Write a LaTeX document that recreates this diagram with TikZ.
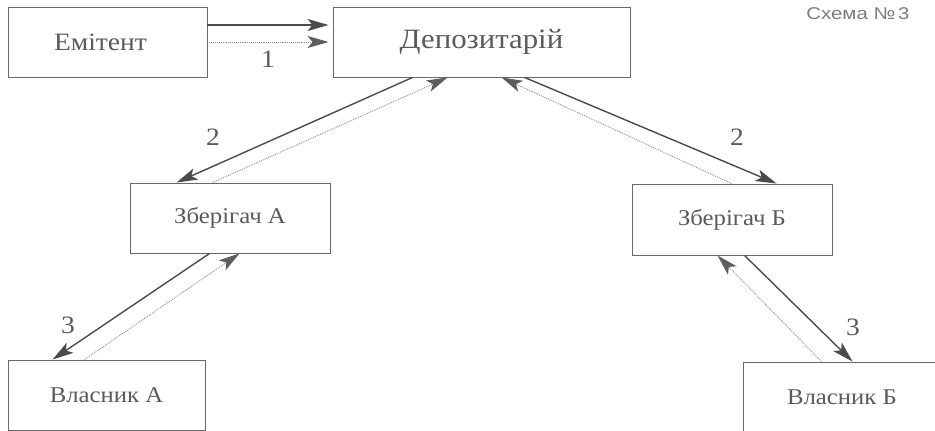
\documentclass[tikz,border=0pt]{standalone}
\usepackage{fontspec}
\setmainfont{Liberation Serif}[FakeStretch=1.1]
\newfontfamily\schemefont{Liberation Sans}[FakeStretch=1.2]
\usetikzlibrary{arrows.meta,calc}
\definecolor{boxline}{RGB}{105,105,105}
\definecolor{txt}{RGB}{90,90,90}
\definecolor{arr}{RGB}{75,75,75}
\definecolor{dotc}{RGB}{140,140,140}
\tikzset{
  blk/.style={draw=boxline, line width=0.9pt, text=txt, inner sep=0pt, font=\fontsize{22.5}{26}\selectfont},
  solidarr/.style={draw=arr, line width=1.4pt, -{Stealth[length=21pt,width=12pt,inset=5pt]}},
  dotarr/.style={draw=dotc, line width=0.9pt, densely dotted, -{Stealth[length=21pt,width=12pt,inset=5pt,color=arr!90,fill=arr!90]}},
  num/.style={text=txt, font=\fontsize{25}{28}\selectfont, inner sep=0pt}
}
\begin{document}
\begin{tikzpicture}[x=1pt,y=-1pt]
\useasboundingbox (0,0) rectangle (935,431);
\node[blk, minimum width=199pt, minimum height=70pt, font=\fontsize{25}{28}\selectfont] (emit) at (107.5,42) {\hspace*{-14pt}Емітент};
\node[blk, minimum width=297pt, minimum height=70pt, font=\fontsize{28}{32}\selectfont] (dep) at (481.5,42) {Депозитарій};
\node[blk, minimum width=200pt, minimum height=70pt] (zba) at (230,218) {Зберігач А};
\node[blk, minimum width=200pt, minimum height=71pt] (zbb) at (732,219.5) {Зберігач Б};
\node[blk, minimum width=197pt, minimum height=70pt] (vla) at (106.5,395) {Власник А};
\node[blk, minimum width=198pt, minimum height=70pt] (vlb) at (842,397) {Власник Б};
\node[text=txt!80, font=\schemefont\fontsize{17}{19}\selectfont, inner sep=0pt] (scheme) at (858,14) {Схема №\,3};
% 1
\draw[solidarr] ($(emit.east)+(0,-17)$) -- ($(dep.west)+(-4,-17)$);
\draw[dotarr] (emit.east) -- ($(dep.west)+(-4,0)$);
\node[num] (n1) at (268,59) {1};
% 2 left
\draw[solidarr] ($(dep.south west)+(80,0)$) -- ($(zba.north west)+(47,0)$);
\draw[dotarr] ($(zba.north west)+(83,0)$) -- ($(dep.south west)+(115,0)$);
\node[num] (n2a) at (213,137) {2};
% 2 right
\draw[solidarr] ($(dep.south west)+(192,0)$) -- ($(zbb.north west)+(145,0)$);
\draw[dotarr] ($(zbb.north west)+(100,0)$) -- ($(dep.south west)+(169,0)$);
\node[num] (n2b) at (737,137) {2};
% 3 left
\draw[solidarr] ($(zba.south west)+(80,0)$) -- ($(vla.north west)+(45,0)$);
\draw[dotarr] ($(vla.north west)+(77,0)$) -- ($(zba.south west)+(110,0)$);
\node[num] (n3a) at (68,325) {3};
% 3 right
\draw[solidarr] ($(zbb.south west)+(113,0)$) -- ($(vlb.north west)+(110,0)$);
\draw[dotarr] ($(vlb.north west)+(79,0)$) -- ($(zbb.south west)+(86,0)$);
\node[num] (n3b) at (853,327) {3};
\end{tikzpicture}
\end{document}
